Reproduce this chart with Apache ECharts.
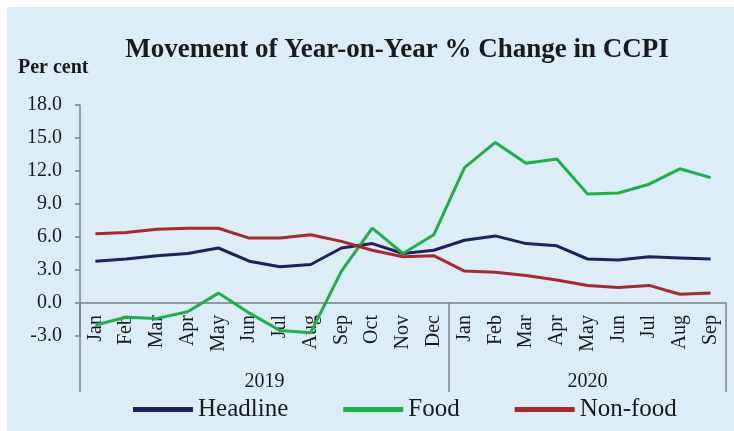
<!DOCTYPE html>
<html>
<head>
<meta charset="utf-8">
<script src="https://cdn.jsdelivr.net/npm/echarts@6/dist/echarts.min.js"></script>
<style>
html,body{margin:0;padding:0;background:#ffffff;}
#bg{position:absolute;left:7px;top:7px;width:727px;height:424px;background:#dcedf8;}
#chart{position:absolute;left:0;top:0;width:734px;height:431px;}
</style>
</head>
<body>
<div id="bg"></div>
<div id="chart"></div>
<script>
const months = ['Jan','Feb','Mar','Apr','May','Jun','Jul','Aug','Sep','Oct','Nov','Dec',
                'Jan','Feb','Mar','Apr','May','Jun','Jul','Aug','Sep'];
const years = ['2019','2020'];
const yearCenters = [6, 16.5];
const yearBounds = [0, 12, 21];
const yTicks = { min: -3, max: 18, step: 3 };

const headline = [3.8,4.0,4.3,4.5,5.0,3.8,3.3,3.5,5.0,5.4,4.5,4.8,
                  5.7,6.1,5.4,5.2,4.0,3.9,4.2,4.1,4.0];
const food = [-2.0,-1.3,-1.4,-0.8,0.9,-0.9,-2.5,-2.7,2.9,6.8,4.5,6.2,
              12.3,14.6,12.7,13.1,9.9,10.0,10.8,12.2,11.4];
const nonFood = [6.3,6.4,6.7,6.8,6.8,5.9,5.9,6.2,5.6,4.8,4.2,4.3,
                 2.9,2.8,2.5,2.1,1.6,1.4,1.6,0.8,0.9];

const serif = 'Liberation Serif, Times New Roman, serif';
const axisGray = '#7f7f7f';
const textCol = '#1a1a1a';

const chart = echarts.init(document.getElementById('chart'));
chart.setOption({
  backgroundColor: 'transparent',
  animation: false,
  title: {
    text: 'Movement of Year-on-Year % Change in CCPI',
    left: 392, top: 32, textAlign: 'center',
    textStyle: { fontFamily: serif, fontWeight: 'bold', fontSize: 27, color: textCol }
  },
  graphic: [{
    type: 'text', left: 18, top: 58,
    style: { text: 'Per cent', font: 'bold 20px ' + serif, fill: textCol }
  }],
  legend: {
    left: 128, top: 392,
    icon: 'rect', itemWidth: 60, itemHeight: 5, itemGap: 55,
    textStyle: { fontFamily: serif, fontSize: 25, color: textCol },
    data: ['Headline','Food','Non-food']
  },
  grid: [
    { left: 80, right: 8, top: 105, bottom: 95, containLabel: false },
    { left: 80, right: 8, top: 105, bottom: 95, containLabel: false }
  ],
  xAxis: [{
    type: 'category', gridIndex: 0, data: months, boundaryGap: true,
    axisLine: { onZero: true, lineStyle: { color: axisGray, width: 1.5 } },
    axisTick: { show: false },
    axisLabel: { rotate: 90, margin: -21, fontFamily: serif, fontSize: 20, color: textCol, interval: 0 }
  }, {
    type: 'value', gridIndex: 1, min: 0, max: 21, position: 'bottom',
    axisLine: { show: false, onZero: true },
    splitLine: { show: false },
    axisTick: { show: true, customValues: yearBounds, length: 89, inside: false,
                lineStyle: { color: axisGray, width: 1.5 } },
    axisLabel: { customValues: yearCenters, margin: 36, fontFamily: serif, fontSize: 20, color: textCol,
                 formatter: v => years[yearCenters.indexOf(v)] }
  }],
  yAxis: [{
    type: 'value', gridIndex: 0, min: yTicks.min, max: yTicks.max, interval: yTicks.step,
    axisLine: { show: true, lineStyle: { color: axisGray, width: 1.5 } },
    axisTick: { show: true, length: 5, lineStyle: { color: axisGray, width: 1.5 } },
    splitLine: { show: false },
    axisLabel: { margin: 18, fontFamily: serif, fontSize: 20, color: textCol,
                 formatter: v => v.toFixed(1) }
  }, {
    type: 'value', gridIndex: 1, min: yTicks.min, max: yTicks.max, interval: yTicks.step, show: false
  }],
  series: [
    { name: 'Headline', type: 'line', data: headline, symbol: 'none',
      lineStyle: { width: 3, color: '#211f5c' }, itemStyle: { color: '#211f5c' } },
    { name: 'Food', type: 'line', data: food, symbol: 'none',
      lineStyle: { width: 3, color: '#1eaf4b' }, itemStyle: { color: '#1eaf4b' } },
    { name: 'Non-food', type: 'line', data: nonFood, symbol: 'none',
      lineStyle: { width: 3, color: '#a52a2e' }, itemStyle: { color: '#a52a2e' } }
  ]
});
</script>
</body>
</html>
